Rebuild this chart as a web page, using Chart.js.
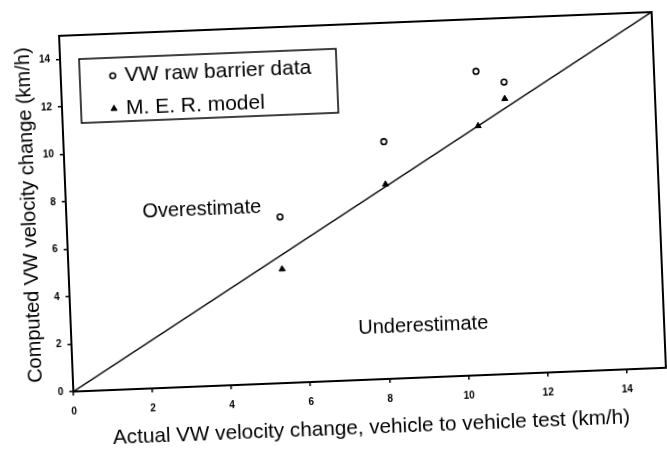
<!DOCTYPE html>
<html>
<head>
<meta charset="utf-8">
<script src="https://cdn.jsdelivr.net/npm/chart.js@4/dist/chart.umd.min.js"></script>
<style>
html,body{margin:0;padding:0;background:#fff;overflow:hidden}
#wrap{width:667px;height:455px;transform:rotate(-2.3deg);transform-origin:50% 50%}
</style>
</head>
<body>
<div id="wrap"><canvas id="rel1" width="667" height="455"></canvas></div>
<script>
 // values
 var actualX = [5.4, 8.1, 10.5, 11.2];
 var rawBarrier = [7.0, 10.0, 12.8, 12.3];
 var merModel = [4.8, 8.2, 10.5, 11.6];
 var seriesNames = ['VW raw barrier data', 'M. E. R. model'];
 var diagX = [0, 15];
 var diagY = [0, 15];
 var tickVals = [0, 2, 4, 6, 8, 10, 12, 14];
 var regionNames = ['Overestimate', 'Underestimate'];
 var regionX = [3.43, 8.91];
 var regionY = [7.44, 2.19];

 var FONT = "'Liberation Sans', Arial, sans-serif";

 function pts(xs, ys){
   return xs.map(function(x, i){ return {x: x, y: ys[i]}; });
 }

 function fixTicks(s){
   s.ticks = tickVals.map(function(v){ return {value: v}; });
 }

 var framePlugin = {
   id: 'frame',
   afterDraw: function(chart){
     var ca = chart.chartArea, ctx = chart.ctx;
     ctx.save();
     ctx.strokeStyle = '#000';
     ctx.lineWidth = 2;
     ctx.strokeRect(ca.left, ca.top, ca.right - ca.left, ca.bottom - ca.top);

     // region labels
     ctx.fillStyle = '#000';
     ctx.font = '20px ' + FONT;
     ctx.textAlign = 'center';
     ctx.textBaseline = 'middle';
     var sx = chart.scales.x, sy = chart.scales.y;
     regionNames.forEach(function(t, i){
       ctx.fillText(t, sx.getPixelForValue(regionX[i]), sy.getPixelForValue(regionY[i]));
     });

     // legend box
     var bx = ca.left + 19, by = ca.top + 24, bw = 257, bh = 64;
     ctx.fillStyle = '#fff';
     ctx.fillRect(bx, by, bw, bh);
     ctx.lineWidth = 1.5;
     ctx.strokeRect(bx, by, bw, bh);
     ctx.font = '21px ' + FONT;
     ctx.textAlign = 'left';
     chart.data.datasets.slice(0, 2).forEach(function(ds, i){
       var cy = by + 18 + i * 33;
       ctx.strokeStyle = ds.borderColor;
       ctx.fillStyle = ds.backgroundColor;
       ctx.lineWidth = ds.borderWidth;
       Chart.helpers.drawPoint(ctx, {pointStyle: ds.pointStyle, radius: ds.pointRadius, borderWidth: ds.borderWidth}, bx + 33, cy);
       ctx.fillStyle = '#000';
       ctx.fillText(ds.label, bx + 45, cy);
     });
     ctx.restore();
   }
 };

 var rel1 = new Chart(document.getElementById('rel1'), {
   type: 'scatter',
   data: {
     datasets: [{
       label: seriesNames[0],
       data: pts(actualX, rawBarrier),
       pointStyle: 'circle',
       pointRadius: 2.8,
       borderWidth: 1.6,
       borderColor: '#000',
       backgroundColor: '#fff'
     }, {
       label: seriesNames[1],
       data: pts(actualX, merModel),
       pointStyle: 'triangle',
       pointRadius: 3.5,
       borderWidth: 1,
       borderColor: '#000',
       backgroundColor: '#000'
     }, {
       type: 'line',
       label: 'diag',
       data: pts(diagX, diagY),
       borderColor: '#000',
       borderWidth: 1.5,
       pointRadius: 0,
       fill: false
     }]
   },
   options: {
     responsive: false,
     animation: false,
     layout: {padding: {left: 8, top: 25, right: 7, bottom: 0}},
     plugins: {legend: {display: false}, tooltip: {enabled: false}},
     scales: {
       x: {
         type: 'linear', min: 0, max: 15,
         afterBuildTicks: fixTicks,
         afterFit: function(s){ s.height = 74; },
         grid: {drawOnChartArea: false, tickLength: 4, color: '#000', lineWidth: 1.5},
         border: {color: '#000', width: 2},
         ticks: {color: '#000', padding: 10, font: {family: FONT, size: 10, weight: 'bold'}},
         title: {display: true, text: 'Actual VW velocity change, vehicle to vehicle test (km/h)', color: '#000',
                 font: {family: FONT, size: 20.7}, padding: {top: 0, bottom: 13}}
       },
       y: {
         type: 'linear', min: 0, max: 15,
         afterBuildTicks: fixTicks,
         afterFit: function(s){ s.width = 59; },
         grid: {drawOnChartArea: false, tickLength: 4, color: '#000', lineWidth: 1.5},
         border: {color: '#000', width: 2},
         ticks: {color: '#000', padding: 6, font: {family: FONT, size: 10, weight: 'bold'}},
         title: {display: true, text: 'Computed VW velocity change (km/h)', color: '#000',
                 font: {family: FONT, size: 20}, padding: {top: 10, bottom: 0}}
       }
     }
   },
   plugins: [framePlugin]
 });
</script>
</body>
</html>
